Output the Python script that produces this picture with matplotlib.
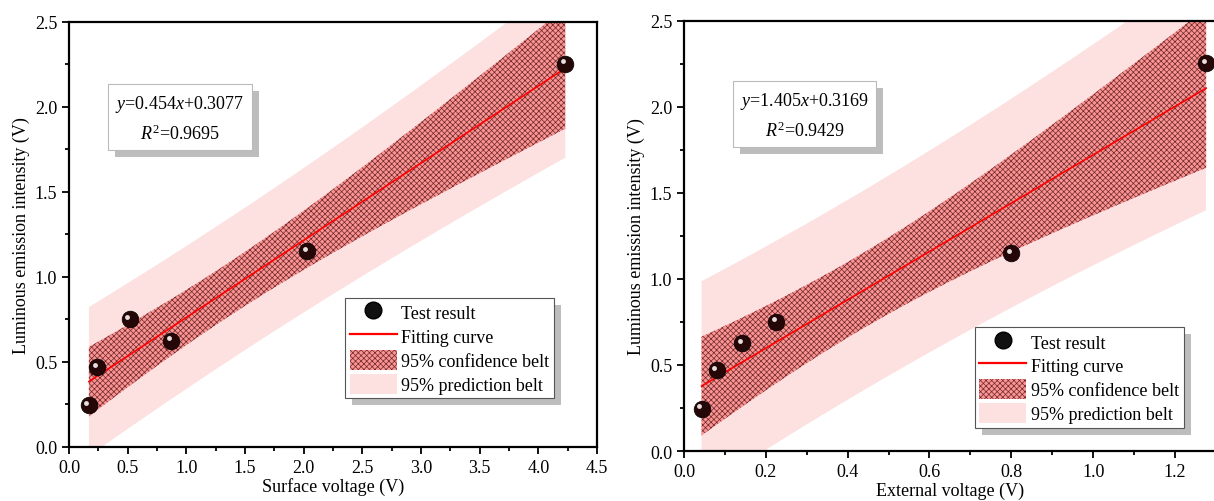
import matplotlib
matplotlib.use("Agg")
import matplotlib.pyplot as plt
from matplotlib.patches import Patch, Rectangle
from matplotlib.lines import Line2D
from matplotlib.ticker import MultipleLocator
from matplotlib.transforms import offset_copy
import numpy as np

# data
emission = [0.245, 0.47, 0.75, 0.625, 1.15, 2.255]
surface_v = [0.17, 0.24, 0.52, 0.87, 2.03, 4.23]
emission_ext = [0.245, 0.47, 0.625, 0.75, 1.15, 2.255]
external_v = [0.043, 0.08, 0.143, 0.225, 0.80, 1.276]

fit_left = (0.454, 0.3077, 0.9695)
fit_right = (1.405, 0.3169, 0.9429)
t_975_4 = 2.776  # Student t, 95 %, n-2 = 4 dof

plt.rcParams['font.family'] = ['Liberation Serif', 'DejaVu Serif']
plt.rcParams['mathtext.fontset'] = 'custom'
plt.rcParams['mathtext.rm'] = 'Liberation Serif'
plt.rcParams['mathtext.it'] = 'Liberation Serif:italic'
plt.rcParams['hatch.linewidth'] = 0.5
plt.rcParams['hatch.color'] = '#6e2828'

FS = 13
CONF_FC = '#fb9494'
CONF_HATCH = '#6e2828'
PRED_FC = '#fde1e1'


def bands(x, y, slope, icpt):
    x = np.asarray(x); y = np.asarray(y)
    n = len(x)
    xs = np.linspace(x.min(), x.max(), 200)
    yfit = slope * xs + icpt
    resid = y - (slope * x + icpt)
    s = np.sqrt(np.sum(resid ** 2) / (n - 2))
    sxx = np.sum((x - x.mean()) ** 2)
    conf = t_975_4 * s * np.sqrt(1 / n + (xs - x.mean()) ** 2 / sxx)
    pred = t_975_4 * s * np.sqrt(1 + 1 / n + (xs - x.mean()) ** 2 / sxx)
    return xs, yfit, conf, pred


def add_shadow(ax, bb, dx=7, dy=-7):
    r = Rectangle((bb.x0 + dx, bb.y0 + dy), bb.width, bb.height,
                  transform=None, facecolor='#bdbdbd', edgecolor='none', zorder=4.5, clip_on=False)
    ax.add_artist(r)


def panel(fig, ax, x, y, fit, xlabel, xlim, xmaj, legend_at, eq_at):
    slope, icpt, r2 = fit
    xs, yfit, conf, pred = bands(x, y, slope, icpt)
    ax.fill_between(xs, yfit - pred, yfit + pred, facecolor=PRED_FC, edgecolor='none', zorder=1)
    ax.fill_between(xs, yfit - conf, yfit + conf, facecolor=CONF_FC, edgecolor=CONF_HATCH,
                    hatch='xxxxxx', linewidth=0, zorder=2)
    ax.plot(xs, yfit, color='red', lw=1.2, zorder=3)
    ax.plot(x, y, 'o', ms=12, color='#250707', mec='#000000', mew=0.5, zorder=6, clip_on=False)
    hl = offset_copy(ax.transData, fig=fig, x=-1.8, y=1.8, units='points')
    ax.plot(x, y, 'o', ms=3.5, color='#e8dede', mec='none', transform=hl, zorder=7, clip_on=False)

    ax.set_xlim(*xlim)
    ax.set_ylim(0, 2.5)
    ax.xaxis.set_major_locator(MultipleLocator(xmaj))
    ax.xaxis.set_minor_locator(MultipleLocator(xmaj / 2))
    ax.yaxis.set_major_locator(MultipleLocator(0.5))
    ax.yaxis.set_minor_locator(MultipleLocator(0.25))
    ax.xaxis.set_major_formatter(matplotlib.ticker.FormatStrFormatter('%.1f'))
    ax.yaxis.set_major_formatter(matplotlib.ticker.FormatStrFormatter('%.1f'))
    ax.tick_params(which='both', direction='out', labelsize=FS, width=1.3, top=False, right=False)
    ax.tick_params(which='major', length=5)
    ax.tick_params(which='minor', length=3)
    for sp in ax.spines.values():
        sp.set_linewidth(1.6)
    ax.set_xlabel(xlabel, fontsize=FS, labelpad=1)
    ax.set_ylabel('Luminous emission intensity (V)', fontsize=FS, labelpad=3)

    handles = [
        Line2D([], [], marker='o', ls='none', ms=12, color='#111111', mec='black'),
        Line2D([], [], color='red', lw=1.6),
        Patch(facecolor=CONF_FC, edgecolor=CONF_HATCH, hatch='xxxxxx', lw=0),
        Patch(facecolor=PRED_FC, edgecolor='none'),
    ]
    labels = ['Test result', 'Fitting curve', '95% confidence belt', '95% prediction belt']
    leg = ax.legend(handles, labels, loc='upper left', bbox_to_anchor=legend_at, fontsize=FS,
                    frameon=True, fancybox=False, edgecolor='#555555', framealpha=1,
                    handlelength=2.6, handleheight=1.3, labelspacing=0.22, handletextpad=0.25,
                    borderpad=0.25, borderaxespad=0)
    leg.get_frame().set_linewidth(0.8)
    leg.set_zorder(8)

    eq = ax.text(eq_at[0], eq_at[1],
                 '$y$=%s$x$+%s\n$R^2$=%s' % (slope, icpt, r2),
                 transform=ax.transAxes, ha='center', va='center', fontsize=FS,
                 linespacing=1.6, zorder=8,
                 bbox=dict(boxstyle='square,pad=0.4', facecolor='white', edgecolor='#bbbbbb', lw=0.8))
    return leg, eq


fig = plt.figure(figsize=(12.14, 5.02), dpi=100)
ax1 = fig.add_axes([0.0568, 0.1076, 0.4349, 0.8466])
ax2 = fig.add_axes([0.5634, 0.0996, 0.4382, 0.8566])

leg1, eq1 = panel(fig, ax1, surface_v, emission, fit_left, 'Surface voltage (V)',
                  (0, 4.5), 0.5, (0.523, 0.351), (0.21, 0.774))
leg2, eq2 = panel(fig, ax2, external_v, emission_ext, fit_right, 'External voltage (V)',
                  (0, 1.3), 0.2, (0.547, 0.288), (0.227, 0.781))

fig.canvas.draw()
r = fig.canvas.get_renderer()
for ax, leg, eq in [(ax1, leg1, eq1), (ax2, leg2, eq2)]:
    add_shadow(ax, leg.get_window_extent(r))
    add_shadow(ax, eq.get_bbox_patch().get_window_extent(r))

fig.savefig('out.png', dpi=100)
